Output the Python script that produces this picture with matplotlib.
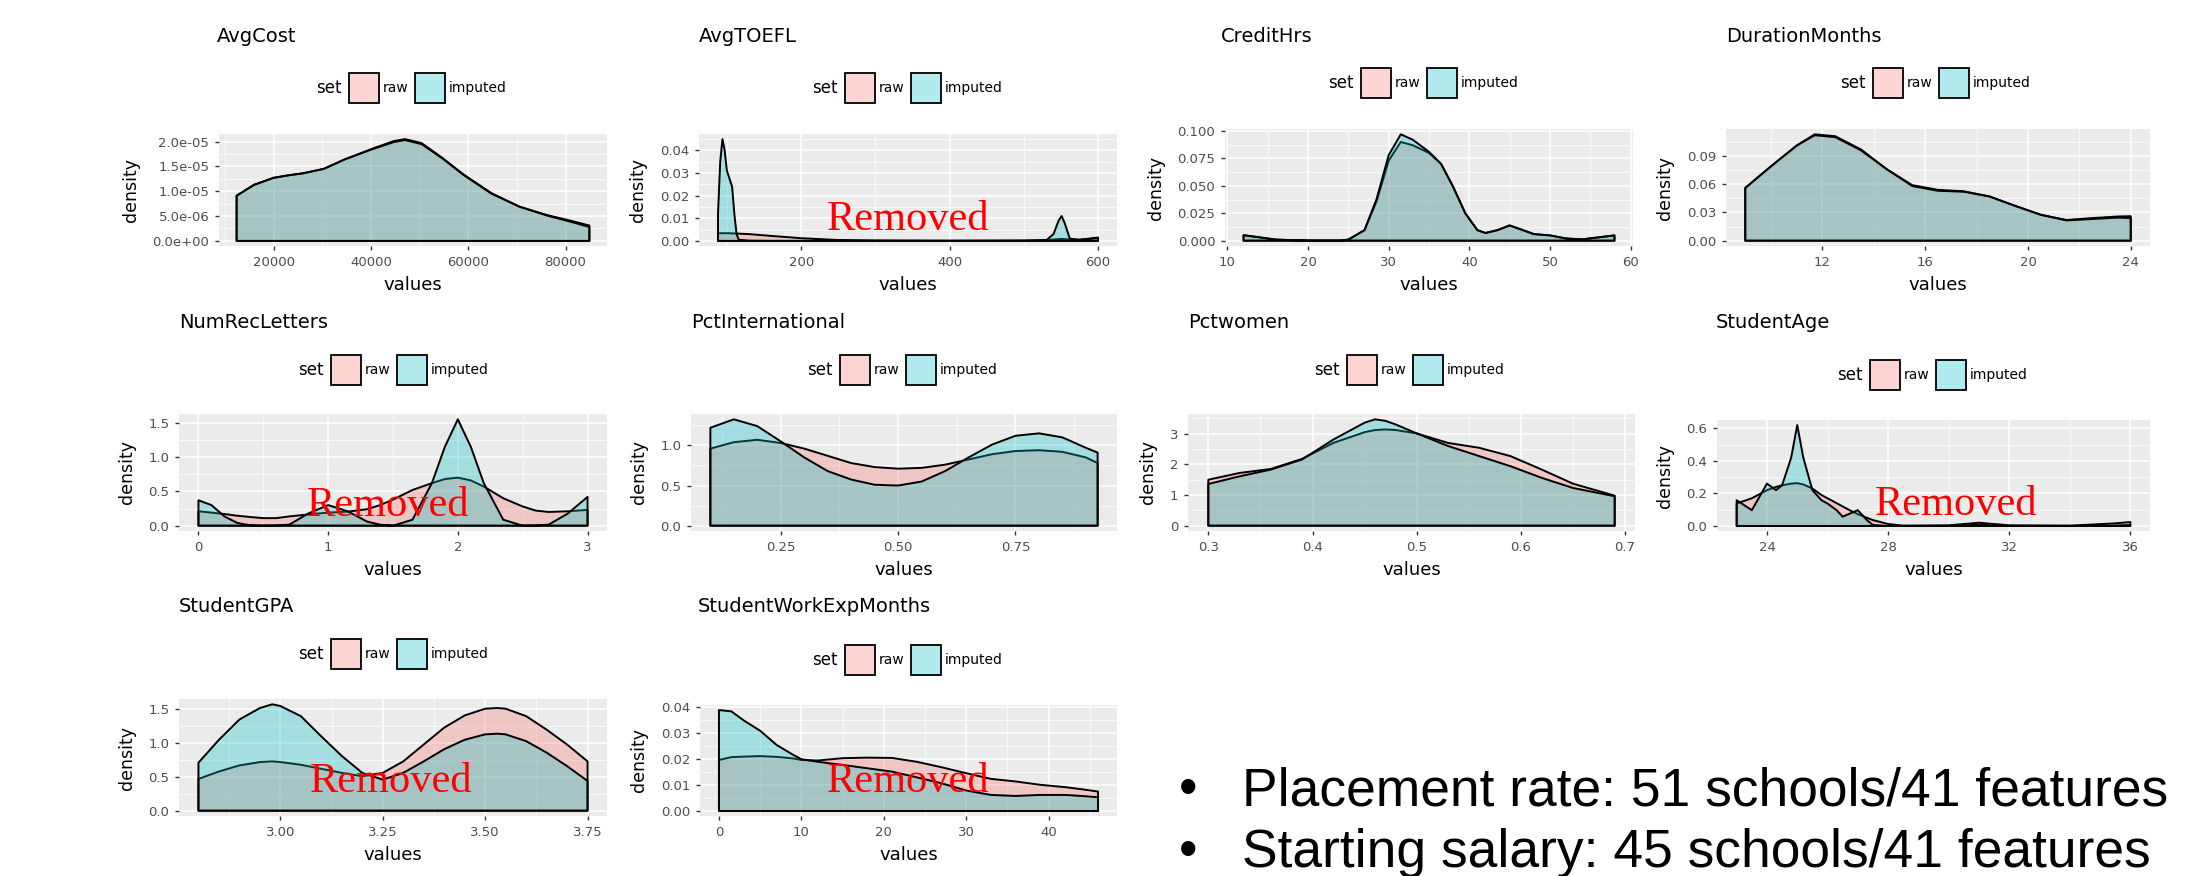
import numpy as np
import matplotlib
matplotlib.use("Agg")
import matplotlib.pyplot as plt
from matplotlib.patches import Rectangle
from matplotlib.colors import to_rgba
from matplotlib.ticker import AutoMinorLocator

W, H = 2187, 876

# ---- data (density of raw vs imputed values) ----
names = ["AvgCost", "AvgTOEFL", "CreditHrs", "DurationMonths", "NumRecLetters",
         "PctInternational", "Pctwomen", "StudentAge", "StudentGPA",
         "StudentWorkExpMonths"]

cost_x = [12400, 16000, 20000, 23000, 26000, 30300, 34600, 40400, 44700, 47000,
          50400, 54700, 59000, 64800, 70500, 76200, 80500, 84900]
cost_raw = [9.1e-6, 11.3e-6, 12.7e-6, 13.2e-6, 13.6e-6, 14.5e-6, 16.4e-6, 18.6e-6,
            20.1e-6, 20.5e-6, 19.7e-6, 16.7e-6, 13.4e-6, 9.6e-6, 6.9e-6, 5.2e-6,
            4.2e-6, 3.1e-6]
cost_imp = [9.1e-6, 11.3e-6, 12.7e-6, 13.2e-6, 13.6e-6, 14.5e-6, 16.4e-6, 18.5e-6,
            19.9e-6, 20.3e-6, 19.5e-6, 16.6e-6, 13.3e-6, 9.5e-6, 6.9e-6, 5.1e-6,
            4.0e-6, 2.8e-6]

toefl_x = [88, 91, 94, 97, 100, 104, 107, 110, 113, 116, 130, 160, 200, 250, 300, 400,
           500, 530, 540, 547, 551, 555, 562, 575, 600]
toefl_raw = [0.0033, 0.0034, 0.0034, 0.0034, 0.0034, 0.0034, 0.0033, 0.0033, 0.0033,
             0.0032, 0.0030, 0.0022, 0.0012, 0.0004, 0.0002, 0.0001, 0.0002, 0.0004,
             0.0006, 0.0008, 0.0009, 0.0008, 0.0006, 0.0005, 0.0015]
toefl_imp = [0.012, 0.035, 0.045, 0.040, 0.031, 0.027, 0.024, 0.012, 0.003, 0.0005,
             0.0001, 0.0, 0.0, 0.0, 0.0, 0.0, 0.0, 0.0002, 0.003, 0.009, 0.011, 0.008,
             0.001, 0.0005, 0.0012]

credit_x = [12, 14, 16, 20, 24, 25, 27, 28.5, 30, 31.5, 33, 35, 36.5, 38, 39.5, 41,
            42, 43.5, 45, 46.5, 48, 50, 52, 54, 56, 58]
credit_raw = [0.005, 0.003, 0.001, 0.0, 0.0, 0.001, 0.0096, 0.036, 0.073, 0.090,
              0.087, 0.080, 0.070, 0.049, 0.025, 0.0096, 0.007, 0.0096, 0.0139, 0.010,
              0.006, 0.0048, 0.002, 0.0012, 0.003, 0.0048]
credit_imp = [0.005, 0.003, 0.001, 0.0, 0.0, 0.001, 0.0096, 0.038, 0.078, 0.097,
              0.092, 0.081, 0.070, 0.049, 0.025, 0.0096, 0.007, 0.0096, 0.0139, 0.010,
              0.006, 0.0048, 0.002, 0.0012, 0.003, 0.0048]

dur_x = [9, 10, 11, 11.7, 12.5, 13.5, 14.5, 15.5, 16.5, 17.5, 18.5, 19.5, 20.5,
         21.5, 22.5, 23.5, 24]
dur_raw = [0.056, 0.079, 0.101, 0.113, 0.111, 0.097, 0.076, 0.059, 0.054, 0.0525,
           0.047, 0.037, 0.0275, 0.022, 0.024, 0.0257, 0.026]
dur_imp = [0.056, 0.079, 0.101, 0.112, 0.110, 0.096, 0.076, 0.058, 0.053, 0.052,
           0.047, 0.037, 0.0275, 0.0215, 0.023, 0.0245, 0.024]

rec_x = [0, 0.1, 0.2, 0.3, 0.4, 0.5, 0.6, 0.7, 0.85, 1.0, 1.15, 1.3, 1.4, 1.5, 1.65,
         1.8, 1.9, 2.0, 2.1, 2.2, 2.35, 2.5, 2.6, 2.7, 2.85, 3.0]
rec_raw = [0.21, 0.19, 0.17, 0.145, 0.126, 0.11, 0.11, 0.135, 0.165, 0.19, 0.205,
           0.24, 0.30, 0.38, 0.52, 0.62, 0.68, 0.70, 0.66, 0.57, 0.40, 0.28, 0.22,
           0.20, 0.21, 0.23]
rec_imp = [0.37, 0.30, 0.135, 0.04, 0.005, 0.0, 0.003, 0.015, 0.18, 0.30, 0.21, 0.06,
           0.015, 0.0, 0.087, 0.62, 1.15, 1.55, 1.15, 0.62, 0.087, 0.0, 0.003, 0.015,
           0.18, 0.42]

intl_x = [0.10, 0.15, 0.20, 0.25, 0.30, 0.35, 0.40, 0.45, 0.50, 0.55, 0.60, 0.65,
          0.70, 0.75, 0.80, 0.85, 0.90, 0.925]
intl_raw = [0.96, 1.04, 1.07, 1.03, 0.96, 0.87, 0.78, 0.73, 0.71, 0.72, 0.76, 0.825,
            0.89, 0.93, 0.94, 0.92, 0.85, 0.78]
intl_imp = [1.22, 1.325, 1.24, 1.05, 0.85, 0.68, 0.575, 0.51, 0.50, 0.55, 0.68, 0.85,
            1.01, 1.12, 1.15, 1.10, 0.97, 0.91]

women_x = [0.30, 0.33, 0.36, 0.39, 0.42, 0.45, 0.46, 0.47, 0.48, 0.50, 0.53, 0.56,
           0.59, 0.62, 0.65, 0.69]
women_raw = [1.50, 1.72, 1.85, 2.18, 2.70, 3.05, 3.12, 3.14, 3.12, 3.01, 2.70, 2.54,
             2.27, 1.83, 1.37, 0.98]
women_imp = [1.36, 1.61, 1.83, 2.16, 2.81, 3.36, 3.47, 3.42, 3.30, 3.01, 2.60, 2.27,
             1.94, 1.56, 1.23, 0.96]

age_x = [23, 23.5, 24, 24.3, 24.5, 24.8, 25, 25.2, 25.5, 25.8, 26, 26.3, 26.5, 26.8,
         27, 27.3, 27.5, 28, 28.5, 30, 31, 32, 34, 35.5, 36]
age_raw = [0.138, 0.17, 0.22, 0.24, 0.25, 0.26, 0.263, 0.255, 0.23, 0.19, 0.17, 0.14,
           0.12, 0.09, 0.073, 0.05, 0.036, 0.012, 0.002, 0.004, 0.020, 0.004, 0.002,
           0.016, 0.024]
age_imp = [0.158, 0.097, 0.26, 0.22, 0.25, 0.42, 0.62, 0.42, 0.22, 0.158, 0.138,
           0.097, 0.057, 0.081, 0.097, 0.036, 0.006, 0.0, 0.0, 0.0, 0.008, 0.0, 0.0,
           0.002, 0.006]

gpa_x = [2.80, 2.85, 2.90, 2.95, 2.98, 3.00, 3.05, 3.10, 3.15, 3.20, 3.25, 3.30, 3.35,
         3.40, 3.45, 3.50, 3.53, 3.55, 3.60, 3.65, 3.70, 3.75]
gpa_raw = [0.47, 0.58, 0.67, 0.72, 0.73, 0.72, 0.68, 0.62, 0.56, 0.51, 0.56, 0.73,
           0.98, 1.23, 1.41, 1.51, 1.52, 1.51, 1.40, 1.20, 0.98, 0.73]
gpa_imp = [0.71, 1.05, 1.35, 1.52, 1.575, 1.55, 1.40, 1.10, 0.81, 0.56, 0.46, 0.56,
           0.73, 0.91, 1.05, 1.13, 1.14, 1.13, 1.03, 0.86, 0.66, 0.44]

work_x = [0, 1.5, 3, 5, 7, 9, 10, 12, 15, 18, 21, 24, 27, 30, 33, 36, 39, 42, 44, 46]
work_raw = [0.0197, 0.0208, 0.021, 0.0212, 0.0209, 0.0203, 0.0197, 0.0195, 0.0204,
            0.0206, 0.0205, 0.019, 0.0169, 0.0146, 0.0124, 0.0114, 0.0101, 0.0092,
            0.0084, 0.0075]
work_imp = [0.039, 0.0385, 0.035, 0.031, 0.0255, 0.0217, 0.020, 0.019, 0.0178,
            0.0165, 0.0152, 0.013, 0.0107, 0.0079, 0.0062, 0.0058, 0.0062, 0.0062,
            0.0058, 0.0053]

xs = [cost_x, toefl_x, credit_x, dur_x, rec_x, intl_x, women_x, age_x, gpa_x, work_x]
raws = [cost_raw, toefl_raw, credit_raw, dur_raw, rec_raw, intl_raw, women_raw,
        age_raw, gpa_raw, work_raw]
imps = [cost_imp, toefl_imp, credit_imp, dur_imp, rec_imp, intl_imp, women_imp,
        age_imp, gpa_imp, work_imp]

xticks = [[20000, 40000, 60000, 80000], [200, 400, 600], [10, 20, 30, 40, 50, 60],
          [12, 16, 20, 24], [0, 1, 2, 3], [0.25, 0.5, 0.75],
          [0.3, 0.4, 0.5, 0.6, 0.7], [24, 28, 32, 36], [3.0, 3.25, 3.5, 3.75],
          [0, 10, 20, 30, 40]]
xlabels = [["20000", "40000", "60000", "80000"], ["200", "400", "600"],
           ["10", "20", "30", "40", "50", "60"], ["12", "16", "20", "24"],
           ["0", "1", "2", "3"], ["0.25", "0.50", "0.75"],
           ["0.3", "0.4", "0.5", "0.6", "0.7"], ["24", "28", "32", "36"],
           ["3.00", "3.25", "3.50", "3.75"], ["0", "10", "20", "30", "40"]]
yticks = [[0, 5e-6, 1e-5, 1.5e-5, 2e-5], [0, 0.01, 0.02, 0.03, 0.04],
          [0, 0.025, 0.05, 0.075, 0.1], [0, 0.03, 0.06, 0.09], [0, 0.5, 1.0, 1.5],
          [0, 0.5, 1.0], [0, 1, 2, 3], [0, 0.2, 0.4, 0.6], [0, 0.5, 1.0, 1.5],
          [0, 0.01, 0.02, 0.03, 0.04]]
ylabels = [["0.0e+00", "5.0e-06", "1.0e-05", "1.5e-05", "2.0e-05"],
           ["0.00", "0.01", "0.02", "0.03", "0.04"],
           ["0.000", "0.025", "0.050", "0.075", "0.100"],
           ["0.00", "0.03", "0.06", "0.09"], ["0.0", "0.5", "1.0", "1.5"],
           ["0.0", "0.5", "1.0"], ["0", "1", "2", "3"],
           ["0.0", "0.2", "0.4", "0.6"], ["0.0", "0.5", "1.0", "1.5"],
           ["0.00", "0.01", "0.02", "0.03", "0.04"]]

bullets = ["Placement rate: 51 schools/41 features",
           "Starting salary: 45 schools/41 features"]

# ---- layout (pixels, top-left origin) ----
boxes = [(219, 134, 607, 246), (699, 134, 1117, 246), (1225, 129, 1633, 246),
         (1726, 129, 2150, 246), (179, 414, 607, 531), (691, 414, 1117, 531),
         (1188, 414, 1635, 531), (1717, 420, 2150, 531), (179, 699, 607, 816),
         (700, 705, 1117, 816)]
title_pos = [(217, 37), (699, 37), (1221, 37), (1726, 37), (179, 322), (691, 322),
             (1188, 322), (1716, 322), (179, 607), (698, 607)]
legend_pos = [(316, 88), (812, 88), (1328, 83), (1840, 83), (298, 370), (807, 370),
              (1314, 370), (1837, 375), (298, 654), (812, 660)]
removed_pos = [(908, 230), (388, 516), (1956, 515), (391, 792), (908, 792)]

RAW = "#F8766D"
IMP = "#00BFC4"
SANS = ["DejaVu Sans"]


def fx(x):
    return x / W


def fy(y):
    return 1 - y / H


fig = plt.figure(figsize=(W / 100, H / 100), dpi=100)
fig.patch.set_facecolor("white")

for i, name in enumerate(names):
    l, t, r, b = boxes[i]
    ax = fig.add_axes([fx(l), fy(b), (r - l) / W, (b - t) / H])
    ax.set_facecolor("#EBEBEB")
    x = np.asarray(xs[i], dtype=float)
    raw = np.asarray(raws[i], dtype=float)
    imp = np.asarray(imps[i], dtype=float)
    for y, col in ((raw, RAW), (imp, IMP)):
        ax.fill(np.r_[x[0], x, x[-1]], np.r_[0, y, 0], fc=to_rgba(col, 0.3),
                ec="black", lw=1.4, joinstyle="round")
    span = x.max() - x.min()
    ax.set_xlim(x.min() - 0.05 * span, x.max() + 0.05 * span)
    ymax = max(raw.max(), imp.max())
    ax.set_ylim(-0.05 * ymax, 1.05 * ymax)

    ax.set_xticks(xticks[i], labels=xlabels[i])
    ax.set_yticks(yticks[i], labels=ylabels[i])
    ax.xaxis.set_minor_locator(AutoMinorLocator(2))
    ax.yaxis.set_minor_locator(AutoMinorLocator(2))
    ax.grid(which="major", color="white", lw=1.1)
    ax.grid(which="minor", color="white", lw=0.5)
    ax.set_axisbelow(True)
    for s in ax.spines.values():
        s.set_visible(False)
    ax.tick_params(which="major", length=3, width=1, color="#333333", pad=4,
                   labelsize=9.5, labelcolor="#4D4D4D")
    ax.tick_params(which="minor", length=0)
    for lab in ax.get_xticklabels() + ax.get_yticklabels():
        lab.set_family(SANS)
    ax.set_xlabel("values", fontsize=13, family=SANS, labelpad=5)
    ax.set_ylabel("density", fontsize=12.5, family=SANS, labelpad=9)

    # panel title
    tx, ty = title_pos[i]
    fig.text(fx(tx), fy(ty), name, fontsize=14, family=SANS, ha="left", va="center")

    # legend: set [raw] [imputed]
    lx, ly = legend_pos[i]
    fig.text(fx(lx), fy(ly), "set", fontsize=12, family=SANS, ha="left", va="center")
    for dx, col in ((33, RAW), (99, IMP)):
        fig.patches.append(Rectangle((fx(lx + dx), fy(ly + 15)), 30 / W, 30 / H,
                                     transform=fig.transFigure, fc=to_rgba(col, 0.3),
                                     ec="black", lw=1.3))
    fig.text(fx(lx + 67), fy(ly), "raw", fontsize=10, family=SANS, ha="left",
             va="center")
    fig.text(fx(lx + 133), fy(ly), "imputed", fontsize=10, family=SANS, ha="left",
             va="center")

for rx, ry in removed_pos:
    fig.text(fx(rx), fy(ry), "Removed", color="red", fontsize=30.5,
             family="Liberation Serif", ha="center", va="baseline")

for k, line in enumerate(bullets):
    by = 805 + 62 * k
    fig.text(fx(1179), fy(by), "\u2022", fontsize=38, family="Liberation Sans",
             ha="left", va="baseline")
    fig.text(fx(1242), fy(by), line, fontsize=38.4, family="Liberation Sans",
             ha="left", va="baseline")

fig.savefig("out.png", dpi=100)
